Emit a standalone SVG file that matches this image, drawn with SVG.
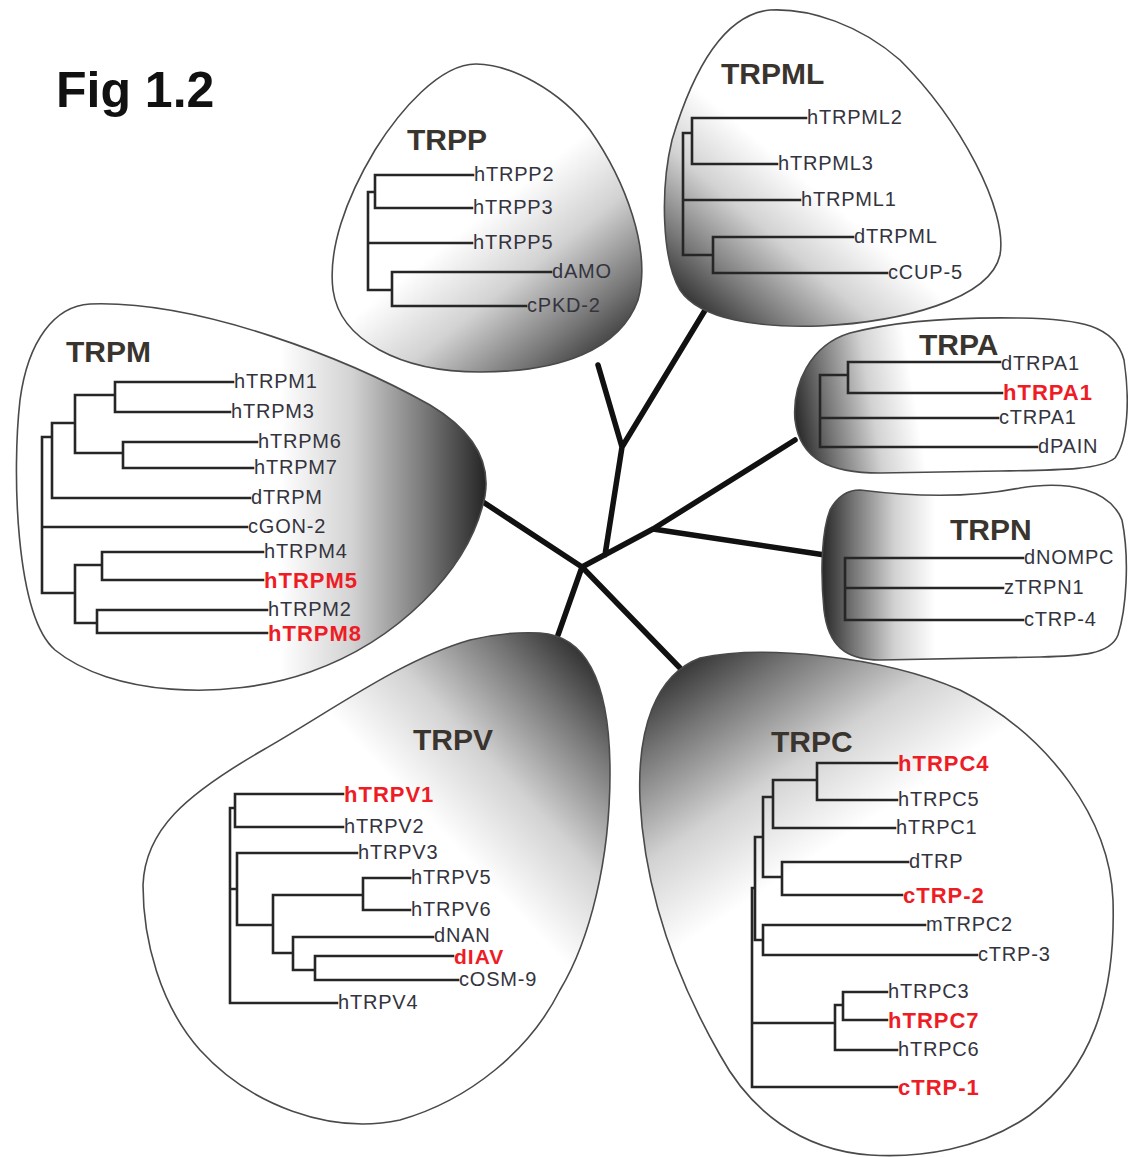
<svg xmlns="http://www.w3.org/2000/svg" width="1128" height="1157" viewBox="0 0 1128 1157">
  <style>
    .blob { stroke: #4a4a4a; stroke-width: 1.6; }
    .tree { fill: none; stroke: #262626; stroke-width: 2.6; stroke-linecap: square; }
    .trunk { fill: none; stroke: #111; stroke-width: 5.5; stroke-linejoin: round; stroke-linecap: round; }
    .title { font-family: "Liberation Sans", Arial, sans-serif; font-weight: bold; font-size: 30px; fill: #3a342f; }
    .leaf { font-family: "Liberation Sans", Arial, sans-serif; font-size: 20px; letter-spacing: 0.8px; fill: #34343e; }
    .hot { font-family: "Liberation Sans", Arial, sans-serif; font-size: 22px; font-weight: bold; letter-spacing: 1px; fill: #ee1c25; }
    .fig { font-family: "Liberation Sans", Arial, sans-serif; font-size: 50px; font-weight: bold; fill: #111; }
  </style>
  <defs>
    <linearGradient id="shade" gradientUnits="objectBoundingBox">
      <stop offset="0" stop-color="#222"/><stop offset="0.3" stop-color="#777"/><stop offset="0.65" stop-color="#d2d2d2"/><stop offset="1" stop-color="#fff"/>
    </linearGradient>
    <linearGradient id="gP" href="#shade" gradientUnits="userSpaceOnUse" x1="622" y1="365" x2="495" y2="205"/>
    <linearGradient id="gML" href="#shade" gradientUnits="userSpaceOnUse" x1="688" y1="318" x2="805" y2="180"/>
    <linearGradient id="gM" href="#shade" gradientUnits="userSpaceOnUse" x1="488" y1="480" x2="280" y2="480"/>
    <linearGradient id="gA" href="#shade" gradientUnits="userSpaceOnUse" x1="792" y1="420" x2="915" y2="400"/>
    <linearGradient id="gN" href="#shade" gradientUnits="userSpaceOnUse" x1="820" y1="565" x2="935" y2="565"/>
    <linearGradient id="gV" href="#shade" gradientUnits="userSpaceOnUse" x1="605" y1="655" x2="430" y2="820"/>
    <linearGradient id="gC" href="#shade" gradientUnits="userSpaceOnUse" x1="655" y1="660" x2="795" y2="870"/>
  </defs>

  <rect width="1128" height="1157" fill="#fff"/>

  <text class="fig" x="56" y="107">Fig 1.2</text>

  <!-- unrooted backbone joining the seven subfamilies -->
  <g id="connectors">
    <path class="trunk" d="M477,498 L582,567 L680,668 M582,567 L558,635 M582,567 L653,529 L795,440 M653,529 L825,555 M605,555 L622,447 L598,365 M622,447 L707,307"/>
  </g>

  <g id="TRPP">
    <path class="blob" fill="url(#gP)" d="M476,64 C440,64 400,110 375,150 C345,200 328,250 333,290 C340,340 400,372 480,372 C560,372 620,350 638,300 C652,250 625,180 590,130 C560,90 510,64 476,64 Z"/>
    <text class="title" x="407" y="150">TRPP</text>
    <path class="tree" d="M473,175 H375 V208 H472 M375,192 H368 V290 H392 M368,243 H472 M551,272 H392 V306 H526"/>
    <text class="leaf" x="474" y="181">hTRPP2</text>
    <text class="leaf" x="473" y="214">hTRPP3</text>
    <text class="leaf" x="473" y="249">hTRPP5</text>
    <text class="leaf" x="552" y="278">dAMO</text>
    <text class="leaf" x="527" y="312">cPKD-2</text>
  </g>

  <g id="TRPML">
    <path class="blob" fill="url(#gML)" d="M770,10 C720,15 690,80 672,140 C660,190 662,260 680,290 C700,320 760,328 820,326 C900,322 990,300 1000,255 C1008,210 960,120 900,60 C860,25 810,8 770,10 Z"/>
    <text class="title" x="721" y="84">TRPML</text>
    <path class="tree" d="M806,118 H692 V164 H777 M692,133 H683 V255 H713 M683,200 H800 M853,237 H713 V273 H887"/>
    <text class="leaf" x="807" y="124">hTRPML2</text>
    <text class="leaf" x="778" y="170">hTRPML3</text>
    <text class="leaf" x="801" y="206">hTRPML1</text>
    <text class="leaf" x="854" y="243">dTRPML</text>
    <text class="leaf" x="888" y="279">cCUP-5</text>
  </g>

  <g id="TRPM">
    <path class="blob" fill="url(#gM)" d="M90,304 C200,300 350,360 430,405 C480,435 494,470 482,508 C465,570 400,640 310,672 C225,702 110,695 55,650 C15,615 12,470 20,400 C28,340 55,306 90,304 Z"/>
    <text class="title" x="66" y="362">TRPM</text>
    <path class="tree" d="M233,382 H115 V412 H230 M115,395 H75 V453 H123 M257,442 H123 V468 H253 M75,423 H52 V498 H250 M52,437 H42 V593 H75 M42,527 H247 M263,552 H102 V580 H263 M102,565 H75 V623 H97 M267,610 H97 V633 H267"/>
    <text class="leaf" x="234" y="388">hTRPM1</text>
    <text class="leaf" x="231" y="418">hTRPM3</text>
    <text class="leaf" x="258" y="448">hTRPM6</text>
    <text class="leaf" x="254" y="474">hTRPM7</text>
    <text class="leaf" x="251" y="504">dTRPM</text>
    <text class="leaf" x="248" y="533">cGON-2</text>
    <text class="leaf" x="264" y="558">hTRPM4</text>
    <text class="hot" x="264" y="588">hTRPM5</text>
    <text class="leaf" x="268" y="616">hTRPM2</text>
    <text class="hot" x="268" y="641">hTRPM8</text>
  </g>

  <g id="TRPA">
    <path class="blob" fill="url(#gA)" d="M850,333 C900,320 960,317 1020,318 C1080,319 1115,325 1124,360 C1130,400 1128,440 1115,458 C1100,470 1060,470 1000,471 L880,473 C830,473 800,460 795,420 C792,385 810,345 850,333 Z"/>
    <text class="title" x="919" y="355">TRPA</text>
    <path class="tree" d="M1000,362 H848 V393 H1002 M848,375 H820 V447 H1037 M820,418 H998"/>
    <text class="leaf" x="1001" y="370">dTRPA1</text>
    <text class="hot" x="1003" y="400">hTRPA1</text>
    <text class="leaf" x="999" y="424">cTRPA1</text>
    <text class="leaf" x="1038" y="453">dPAIN</text>
  </g>

  <g id="TRPN">
    <path class="blob" fill="url(#gN)" d="M860,490 C900,495 960,500 1020,488 C1070,480 1110,490 1122,520 C1130,560 1126,610 1118,635 C1110,655 1080,656 1040,657 L880,660 C845,660 828,645 824,610 C820,570 822,530 830,510 C838,495 848,490 860,490 Z"/>
    <text class="title" x="950" y="540">TRPN</text>
    <path class="tree" d="M1023,558 H845 V620 H1023 M845,588 H1003"/>
    <text class="leaf" x="1024" y="564">dNOMPC</text>
    <text class="leaf" x="1004" y="594">zTRPN1</text>
    <text class="leaf" x="1024" y="626">cTRP-4</text>
  </g>

  <g id="TRPV">
    <path class="blob" fill="url(#gV)" d="M540,633 C590,636 610,690 610,773 C610,860 590,940 560,990 C530,1050 470,1100 400,1120 C330,1135 250,1105 200,1050 C160,1005 143,940 143,885 C145,830 185,795 263,750 C330,712 400,660 470,640 C495,634 520,632 540,633 Z"/>
    <text class="title" x="413" y="750">TRPV</text>
    <path class="tree" d="M343,794 H235 V827 H343 M235,808 H230 V1003 H337 M357,853 H237 V925 H273 M230,889 H237 M273,895 V953 H293 M273,895 H363 M410,878 H363 V910 H410 M433,937 H293 V970 H315 M453,956 H315 V980 H458"/>
    <text class="hot" x="344" y="802">hTRPV1</text>
    <text class="leaf" x="344" y="833">hTRPV2</text>
    <text class="leaf" x="358" y="859">hTRPV3</text>
    <text class="leaf" x="411" y="884">hTRPV5</text>
    <text class="leaf" x="411" y="916">hTRPV6</text>
    <text class="leaf" x="434" y="942">dNAN</text>
    <text class="hot" x="454" y="964" style="font-size:21px">dIAV</text>
    <text class="leaf" x="459" y="986">cOSM-9</text>
    <text class="leaf" x="338" y="1009">hTRPV4</text>
  </g>

  <g id="TRPC">
    <path class="blob" fill="url(#gC)" d="M700,658 C760,645 880,655 960,690 C1050,735 1110,820 1113,900 C1116,1000 1090,1070 1030,1115 C980,1150 920,1158 870,1155 C800,1150 750,1110 720,1055 C680,985 645,900 640,800 C637,730 655,675 700,658 Z"/>
    <text class="title" x="771" y="752">TRPC</text>
    <path class="tree" d="M897,763 H817 V800 H897 M817,780 H773 V828 H895 M773,797 H763 V877 H782 M908,862 H782 V895 H902 M763,837 H755 V940 H763 M925,925 H763 V955 H977 M755,888 H752 V1087 H897 M887,992 H843 V1020 H887 M843,1005 H835 V1050 H897 M835,1023 H752"/>
    <text class="hot" x="898" y="771">hTRPC4</text>
    <text class="leaf" x="898" y="806">hTRPC5</text>
    <text class="leaf" x="896" y="834">hTRPC1</text>
    <text class="leaf" x="909" y="868">dTRP</text>
    <text class="hot" x="903" y="903">cTRP-2</text>
    <text class="leaf" x="926" y="931">mTRPC2</text>
    <text class="leaf" x="978" y="961">cTRP-3</text>
    <text class="leaf" x="888" y="998">hTRPC3</text>
    <text class="hot" x="888" y="1028">hTRPC7</text>
    <text class="leaf" x="898" y="1056">hTRPC6</text>
    <text class="hot" x="898" y="1095">cTRP-1</text>
  </g>
</svg>
